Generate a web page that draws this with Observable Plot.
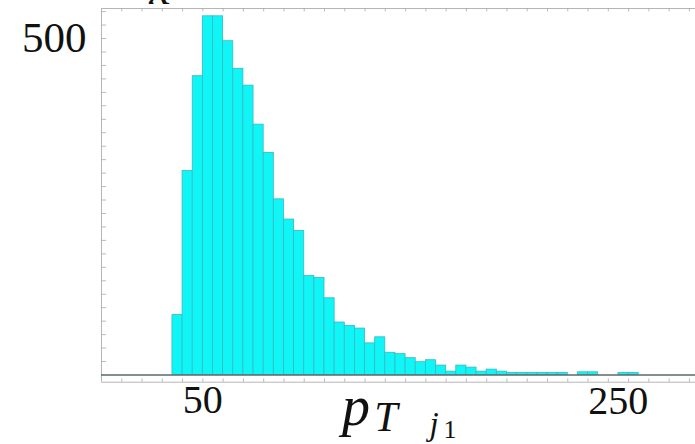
<!DOCTYPE html>
<html>
<head>
<meta charset="utf-8">
<script src="https://cdn.jsdelivr.net/npm/d3@7"></script>
<script src="https://cdn.jsdelivr.net/npm/@observablehq/plot@0.6"></script>
<style>
  html, body { margin: 0; padding: 0; background: #fff; }
  svg { display: block; }
</style>
</head>
<body>
<div id="chart"></div>
<script>
// Histogram of leading-jet pT (bins of width 5 starting at 35)
const binStart = 35;
const binWidth = 5;
const counts = [89, 303, 444, 533, 533, 496, 455, 430, 372, 330, 261, 231, 214, 147, 144, 114,
                78, 73, 69, 47, 56, 33, 31, 25, 19, 22, 14, 5, 14, 11, 5, 8, 5,
                3, 3, 3, 3, 3, 3, 0, 4, 4, 0, 0, 3, 3];
const xTickLabels = [50, 250];
const yTickLabels = [500];

const bins = counts.map((c, i) => ({x1: binStart + i * binWidth, x2: binStart + (i + 1) * binWidth, count: c}));

const xDomain = [0, 293];
const yDomain = [-10.7, 544.6];
const xMinor = d3.range(10, 291, 10);
const yMinor = d3.range(20, 541, 20);
const serif = "'Liberation Serif', 'DejaVu Serif', serif";

const chart = Plot.plot({
  width: 695,
  height: 444,
  marginLeft: 101,
  marginRight: 0,
  marginTop: 8,
  marginBottom: 62.3,
  style: {background: "#fff", overflow: "visible"},
  x: {domain: xDomain, axis: null},
  y: {domain: yDomain, axis: null},
  marks: [
    // frame (left, top, bottom)
    Plot.ruleX([xDomain[0]], {stroke: "#b5b5b5", strokeWidth: 1}),
    Plot.ruleY([yDomain[1]], {stroke: "#b5b5b5", strokeWidth: 1}),
    Plot.ruleY([yDomain[0]], {stroke: "#b5b5b5", strokeWidth: 1}),
    // x minor ticks bottom & top
    Plot.ruleX(xMinor, {y1: yDomain[0], y2: yDomain[0] + 5, stroke: "#aaa", strokeWidth: 0.8}),
    Plot.ruleX(xMinor, {y1: yDomain[1], y2: yDomain[1] - 5, stroke: "#aaa", strokeWidth: 0.8}),
    // y minor ticks
    Plot.ruleY(yMinor, {x1: xDomain[0], x2: xDomain[0] + 2.5, stroke: "#aaa", strokeWidth: 0.8}),
    // bars
    Plot.rect(bins, {x1: "x1", x2: "x2", y1: 0, y2: "count", fill: "#10f6f6", stroke: "#35b9c2", strokeWidth: 0.8}),
    // zero baseline
    Plot.ruleY([0], {stroke: "#5a6a6a", strokeWidth: 1.3}),
    // tick labels
    Plot.text(yTickLabels, {x: xDomain[0], y: d => d, text: d => String(d), textAnchor: "end", lineAnchor: "middle", dx: -15, fontSize: 43, fontFamily: serif, fill: "#111"}),
    Plot.text(xTickLabels.slice(0, 1), {x: d => d, y: yDomain[0], text: d => String(d), lineAnchor: "top", dy: 2, fontSize: 40, fontFamily: serif, fill: "#111"}),
    Plot.text(xTickLabels.slice(1), {x: d => d, y: yDomain[0], text: d => String(d), lineAnchor: "top", dy: 3, dx: 10, fontSize: 40, fontFamily: serif, fill: "#111"})
  ]
});

const svg = d3.select(chart);
// axis title  p_{T j_1}
const t = svg.append("text")
  .attr("font-family", serif)
  .attr("fill", "#111");
t.append("tspan").attr("x", 356).attr("y", 425).attr("font-size", 56).attr("font-style", "italic").text("p");
t.append("tspan").attr("x", 386).attr("y", 431).attr("font-size", 42).attr("font-style", "italic").text("T");
t.append("tspan").attr("x", 434).attr("y", 435).attr("font-size", 33).attr("font-style", "italic").text("j");
t.append("tspan").attr("x", 450).attr("y", 438).attr("font-size", 26).text("1");
// remnant of a label cut off above the frame
svg.append("text")
  .attr("x", 160).attr("y", 4)
  .attr("text-anchor", "middle")
  .attr("font-family", serif).attr("font-style", "italic")
  .attr("font-size", 48).attr("fill", "#111")
  .text("x");

document.getElementById("chart").appendChild(chart);
</script>
</body>
</html>
